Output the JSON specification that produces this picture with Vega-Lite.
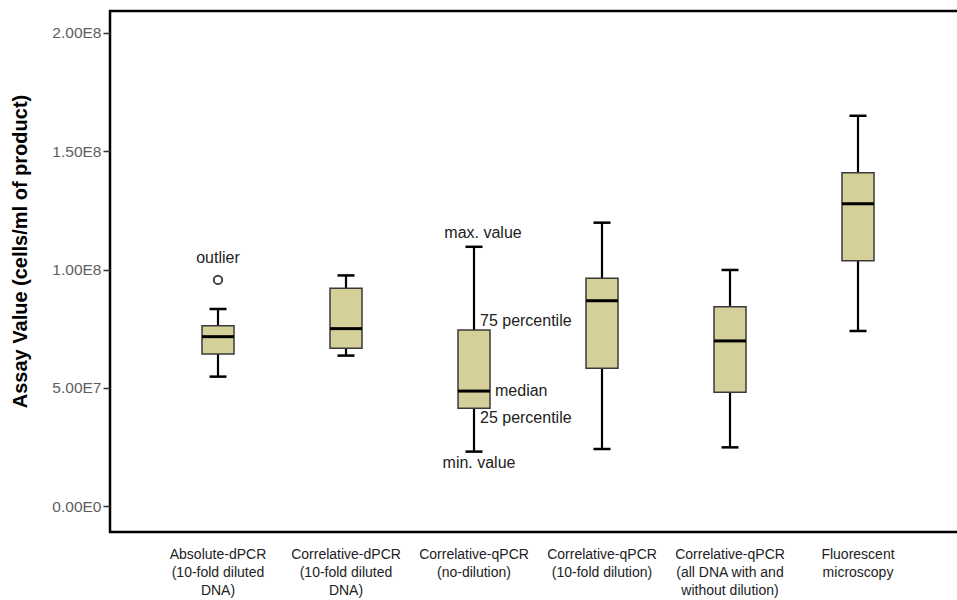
{
  "$schema": "https://vega.github.io/schema/vega-lite/v6.json",
  "width": 850,
  "height": 521,
  "autosize": "none",
  "padding": {"left": 110, "top": 11, "right": 0, "bottom": 68},
  "background": "white",
  "config": {
    "view": {"stroke": "black", "strokeWidth": 2.5},
    "font": "Liberation Sans"
  },
  "datasets": {
    "boxes": [
      {"method": "Absolute-dPCR\n(10-fold diluted\nDNA)", "low": 5.47e7, "q1": 6.43e7, "median": 7.16e7, "q3": 7.62e7, "high": 8.33e7},
      {"method": "Correlative-dPCR\n(10-fold diluted\nDNA)", "low": 6.36e7, "q1": 6.67e7, "median": 7.50e7, "q3": 9.21e7, "high": 9.75e7},
      {"method": "Correlative-qPCR\n(no-dilution)", "low": 2.30e7, "q1": 4.13e7, "median": 4.86e7, "q3": 7.44e7, "high": 1.096e8},
      {"method": "Correlative-qPCR\n(10-fold dilution)", "low": 2.41e7, "q1": 5.82e7, "median": 8.68e7, "q3": 9.63e7, "high": 1.198e8},
      {"method": "Correlative-qPCR\n(all DNA  with and\nwithout dilution)", "low": 2.48e7, "q1": 4.81e7, "median": 6.98e7, "q3": 8.43e7, "high": 9.98e7},
      {"method": "Fluorescent\nmicroscopy", "low": 7.40e7, "q1": 1.037e8, "median": 1.278e8, "q3": 1.409e8, "high": 1.650e8}
    ],
    "outliers": [
      {"method": "Absolute-dPCR\n(10-fold diluted\nDNA)", "value": 9.56e7}
    ],
    "notes": [
      {"method": "Absolute-dPCR\n(10-fold diluted\nDNA)", "value": 1.049e8, "note": "outlier", "kind": "center"},
      {"method": "Correlative-qPCR\n(no-dilution)", "value": 1.154e8, "note": "max. value", "kind": "top"},
      {"method": "Correlative-qPCR\n(no-dilution)", "value": 1.82e7, "note": "min. value", "kind": "bottom"},
      {"method": "Correlative-qPCR\n(no-dilution)", "value": 7.82e7, "note": "75 percentile", "kind": "side"},
      {"method": "Correlative-qPCR\n(no-dilution)", "value": 3.72e7, "note": "25 percentile", "kind": "side"},
      {"method": "Correlative-qPCR\n(no-dilution)", "value": 4.86e7, "note": "median", "kind": "mid"}
    ]
  },
  "encoding": {
    "x": {
      "field": "method",
      "type": "nominal",
      "sort": null,
      "scale": {"type": "band", "range": [44, 812], "paddingInner": 0, "paddingOuter": 0},
      "axis": {
        "title": null,
        "domain": false,
        "ticks": false,
        "labelAngle": 0,
        "labelExpr": "split(datum.label, '\\n')",
        "labelFont": "'Liberation Sans Narrow', 'Liberation Sans', Arial",
        "labelFontSize": 14,
        "labelLineHeight": 18,
        "labelColor": "#222222",
        "labelPadding": 15,
        "labelBaseline": "top"
      }
    }
  },
  "layer": [
    {
      "data": {"name": "boxes"},
      "mark": {"type": "rule", "color": "black", "strokeWidth": 2.2},
      "encoding": {
        "y": {
          "field": "low",
          "type": "quantitative",
          "scale": {"domain": [-1.099e7, 2.093e8], "nice": false, "zero": false},
          "axis": {
            "values": [0, 50000000, 100000000, 150000000, 200000000],
            "labelExpr": "replace(format(datum.value, '.2e'), 'e+', 'E')",
            "labelFont": "Liberation Sans",
            "labelFontSize": 15.5,
            "labelColor": "#5e5e5e",
            "labelPadding": 2,
            "tickColor": "#333333",
            "tickSize": 7,
            "tickWidth": 1.5,
            "domain": false,
            "grid": false,
            "title": "Assay Value (cells/ml of product)",
            "titleFont": "Liberation Sans",
            "titleFontSize": 20,
            "titleFontWeight": "bold",
            "titleColor": "black",
            "titleAngle": -90,
            "titleX": -90,
            "titleY": 240,
            "titleAlign": "center",
            "titleBaseline": "middle"
          }
        },
        "y2": {"field": "high"}
      }
    },
    {
      "data": {"name": "boxes"},
      "mark": {"type": "tick", "color": "black", "opacity": 1, "size": 17, "thickness": 2.5},
      "encoding": {"y": {"field": "low", "type": "quantitative"}}
    },
    {
      "data": {"name": "boxes"},
      "mark": {"type": "tick", "color": "black", "opacity": 1, "size": 17, "thickness": 2.5},
      "encoding": {"y": {"field": "high", "type": "quantitative"}}
    },
    {
      "data": {"name": "boxes"},
      "mark": {"type": "bar", "size": 32, "fill": "#d5d09a", "opacity": 1, "stroke": "#3a3a3a", "strokeWidth": 1.5},
      "encoding": {
        "y": {"field": "q1", "type": "quantitative"},
        "y2": {"field": "q3"}
      }
    },
    {
      "data": {"name": "boxes"},
      "mark": {"type": "tick", "color": "black", "opacity": 1, "size": 32, "thickness": 3},
      "encoding": {"y": {"field": "median", "type": "quantitative"}}
    },
    {
      "data": {"name": "outliers"},
      "mark": {"type": "point", "shape": "circle", "size": 70, "filled": false, "opacity": 1, "stroke": "#444444", "strokeWidth": 2},
      "encoding": {"y": {"field": "value", "type": "quantitative"}}
    },
    {
      "data": {"name": "notes"},
      "transform": [{"filter": "datum.kind == 'center'"}],
      "mark": {"type": "text", "align": "center", "baseline": "middle", "fontSize": 16, "color": "#222222"},
      "encoding": {"y": {"field": "value", "type": "quantitative"}, "text": {"field": "note"}}
    },
    {
      "data": {"name": "notes"},
      "transform": [{"filter": "datum.kind == 'top'"}],
      "mark": {"type": "text", "align": "center", "baseline": "middle", "dx": 9, "fontSize": 16, "color": "#222222"},
      "encoding": {"y": {"field": "value", "type": "quantitative"}, "text": {"field": "note"}}
    },
    {
      "data": {"name": "notes"},
      "transform": [{"filter": "datum.kind == 'bottom'"}],
      "mark": {"type": "text", "align": "center", "baseline": "middle", "dx": 5, "fontSize": 16, "color": "#222222"},
      "encoding": {"y": {"field": "value", "type": "quantitative"}, "text": {"field": "note"}}
    },
    {
      "data": {"name": "notes"},
      "transform": [{"filter": "datum.kind == 'side'"}],
      "mark": {"type": "text", "align": "left", "baseline": "middle", "dx": 6, "fontSize": 16, "color": "#222222"},
      "encoding": {"y": {"field": "value", "type": "quantitative"}, "text": {"field": "note"}}
    },
    {
      "data": {"name": "notes"},
      "transform": [{"filter": "datum.kind == 'mid'"}],
      "mark": {"type": "text", "align": "left", "baseline": "middle", "dx": 21, "fontSize": 16, "color": "#222222"},
      "encoding": {"y": {"field": "value", "type": "quantitative"}, "text": {"field": "note"}}
    }
  ]
}
